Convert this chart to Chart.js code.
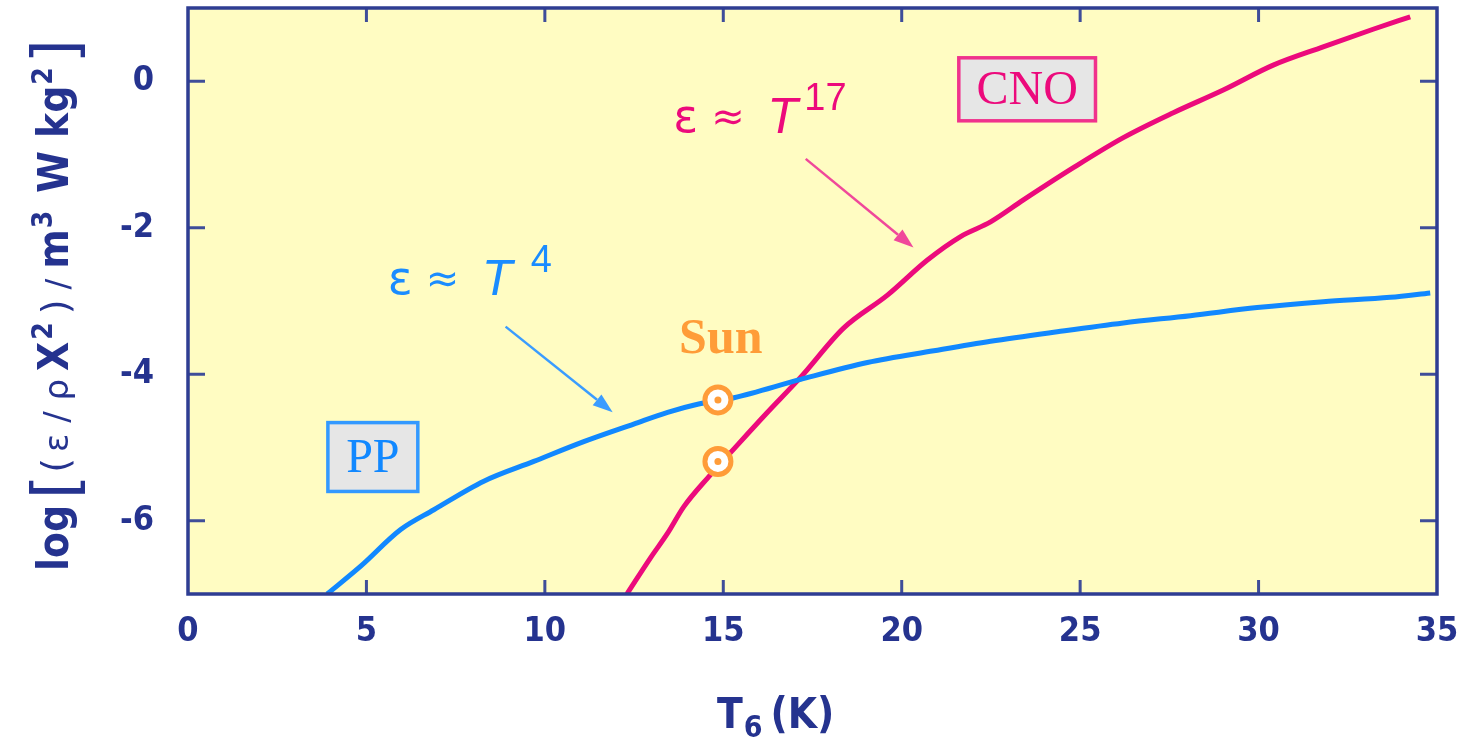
<!DOCTYPE html>
<html>
<head>
<meta charset="utf-8">
<script src="https://cdn.jsdelivr.net/npm/chart.js@4.4.1/dist/chart.umd.min.js"></script>
<style>
  html, body { margin: 0; background: #fff; }
</style>
</head>
<body>
<canvas id="chart" width="1460" height="741"></canvas>
<script>
// pp chain: log(eps / rho X^2) against T6
const ppT   = [3.9, 4.84, 5.96, 6.89, 8.29, 9.69, 11.09, 12.49, 13.44, 14.28, 15.3, 17.17, 19.04, 20.9, 22.49, 24.36, 26.21, 28.09, 29.96, 31.81, 33.69, 34.81];
const ppLog = [-7.0, -6.62, -6.12, -5.85, -5.46, -5.19, -4.92, -4.68, -4.52, -4.41, -4.32, -4.07, -3.84, -3.68, -3.55, -3.42, -3.30, -3.20, -3.09, -3.01, -2.95, -2.89];

// CNO cycle
const cnoT   = [12.3, 12.97, 13.44, 13.89, 14.59, 15.26, 16.2, 17.17, 18.37, 19.6, 20.72, 21.65, 22.49, 23.41, 24.81, 26.21, 27.61, 29.01, 30.41, 31.81, 33.21, 34.25];
const cnoLog = [-7.0, -6.5, -6.17, -5.81, -5.4, -5.04, -4.54, -4.04, -3.37, -2.92, -2.44, -2.12, -1.92, -1.62, -1.18, -0.77, -0.43, -0.12, 0.22, 0.47, 0.71, 0.88];

// the Sun on both curves
const sunT   = [14.85, 14.85];
const sunLog = [-4.35, -5.19];

const xTicks = [0, 5, 10, 15, 20, 25, 30, 35];
const yTicks = [-6, -4, -2, 0];

const NAVY = '#25338f';
const FRAME = '#2e3d93';
const BLUE = '#1188ff';
const PINK = '#ec0a7c';
const ORANGE = '#ff9c38';
const NARROW = '"Liberation Sans Narrow", "DejaVu Sans Condensed", sans-serif';
const SERIF = '"Liberation Serif", "DejaVu Serif", serif';

const pts = (xs, ys) => xs.map((x, i) => ({ x, y: ys[i] }));

function arrow(ctx, x1, y1, x2, y2, color, w) {
  const a = Math.atan2(y2 - y1, x2 - x1);
  const hl = 20, hw = 7;
  ctx.save();
  ctx.strokeStyle = color;
  ctx.fillStyle = color;
  ctx.lineWidth = w;
  ctx.beginPath();
  ctx.moveTo(x1, y1);
  ctx.lineTo(x2 - hl * Math.cos(a), y2 - hl * Math.sin(a));
  ctx.stroke();
  ctx.beginPath();
  ctx.moveTo(x2, y2);
  ctx.lineTo(x2 - hl * Math.cos(a) + hw * Math.sin(a), y2 - hl * Math.sin(a) - hw * Math.cos(a));
  ctx.lineTo(x2 - hl * Math.cos(a) - hw * Math.sin(a), y2 - hl * Math.sin(a) + hw * Math.cos(a));
  ctx.closePath();
  ctx.fill();
  ctx.restore();
}

function labelBox(ctx, x1, y1, x2, y2, text, color, border) {
  ctx.save();
  ctx.fillStyle = '#e6e6e6';
  ctx.fillRect(x1, y1, x2 - x1, y2 - y1);
  ctx.strokeStyle = border;
  ctx.lineWidth = 3.5;
  ctx.strokeRect(x1, y1, x2 - x1, y2 - y1);
  ctx.fillStyle = color;
  ctx.font = '48px ' + SERIF;
  ctx.textAlign = 'center';
  ctx.textBaseline = 'middle';
  ctx.fillText(text, (x1 + x2) / 2, (y1 + y2) / 2 + 2);
  ctx.restore();
}

// eps ~ T^n label, drawn piece by piece
function powerLabel(ctx, x, y, n, color, supDx) {
  ctx.save();
  ctx.fillStyle = color;
  ctx.textBaseline = 'alphabetic';
  ctx.font = '46px "DejaVu Sans", sans-serif';
  ctx.fillText('ε', x, y);
  ctx.font = '40px "DejaVu Sans", sans-serif';
  ctx.fillText('≈', x + 38, y - 2);
  ctx.font = 'italic 50px "Liberation Sans", sans-serif';
  ctx.fillText('T', x + 94, y + 1);
  ctx.font = '38px "Liberation Sans", sans-serif';
  ctx.fillText(n, x + supDx, y - 22);
  ctx.restore();
}

// a row of text pieces laid out one after the other
function runs(ctx, x, y, parts) {
  let cx = x;
  parts.forEach(p => {
    ctx.font = p.f;
    ctx.fillText(p.t, cx, y + (p.dy || 0));
    cx += ctx.measureText(p.t).width + (p.gap || 0);
  });
}
function runsWidth(ctx, parts) {
  return parts.reduce((s, p) => { ctx.font = p.f; return s + ctx.measureText(p.t).width + (p.gap || 0); }, 0);
}

const decor = {
  id: 'decor',
  beforeDatasetsDraw(chart) {
    const { ctx, chartArea: a } = chart;
    ctx.save();
    ctx.fillStyle = '#fffcc2';
    ctx.fillRect(a.left, a.top, a.right - a.left, a.bottom - a.top);
    ctx.restore();
  },
  afterDatasetsDraw(chart) {
    const { ctx, chartArea: a, scales: { x, y } } = chart;
    const px = v => x.getPixelForValue(v);
    const py = v => y.getPixelForValue(v);

    // inward ticks
    ctx.save();
    ctx.strokeStyle = '#3f4d99';
    ctx.lineWidth = 3;
    ctx.beginPath();
    x.ticks.forEach(t => {
      const p = px(t.value);
      if (t.value === 0 || t.value === 35) return;
      ctx.moveTo(p, a.top); ctx.lineTo(p, a.top + 14);
      ctx.moveTo(p, a.bottom); ctx.lineTo(p, a.bottom - 14);
    });
    y.ticks.forEach(t => {
      const p = py(t.value);
      ctx.moveTo(a.left, p); ctx.lineTo(a.left + 17, p);
      ctx.moveTo(a.right, p); ctx.lineTo(a.right - 17, p);
    });
    ctx.stroke();
    ctx.strokeStyle = FRAME;
    ctx.lineWidth = 3.5;
    ctx.strokeRect(a.left, a.top, a.right - a.left, a.bottom - a.top);
    ctx.restore();

    // boxes and labels
    labelBox(ctx, px(21.6), py(0.32), px(25.43), py(-0.54), 'CNO', PINK, '#f0328c');
    labelBox(ctx, px(3.92), py(-4.66), px(6.44), py(-5.6), 'PP', BLUE, '#3399ff');

    ctx.save();
    ctx.fillStyle = ORANGE;
    ctx.font = 'bold 50px ' + SERIF;
    ctx.textAlign = 'center';
    ctx.fillText('Sun', px(14.93), py(-3.71));
    ctx.restore();

    powerLabel(ctx, px(13.6), py(-0.69), '17', PINK, 131);
    powerLabel(ctx, px(5.6), py(-2.91), '4', '#1a8cff', 143);

    arrow(ctx, px(17.31), py(-1.06), px(20.33), py(-2.27), '#f0489a', 2.5);
    arrow(ctx, px(8.9), py(-3.35), px(11.9), py(-4.52), '#3a9cff', 2.5);

    // axis titles
    ctx.save();
    ctx.fillStyle = NAVY;
    ctx.textBaseline = 'alphabetic';
    const xt = [
      { t: 'T', f: 'bold 42px ' + NARROW, gap: 1 },
      { t: '6', f: 'bold 30px ' + NARROW, dy: 9, gap: 8 },
      { t: '(K)', f: 'bold 42px ' + NARROW }
    ];
    runs(ctx, 717, 728, xt);

    const yt = [
      { t: 'log', f: 'bold 42px ' + NARROW, gap: 6 },
      { t: '[', f: '62px "DejaVu Sans", sans-serif', dy: 8, gap: 2 },
      { t: '(', f: '38px "DejaVu Sans", sans-serif', gap: 6 },
      { t: 'ε / ρ', f: '34px "DejaVu Sans", sans-serif', gap: 8 },
      { t: 'X', f: 'bold 42px ' + NARROW, gap: 2 },
      { t: '2', f: 'bold 28px ' + NARROW, dy: -16, gap: 8 },
      { t: ')', f: '38px "DejaVu Sans", sans-serif', gap: 10 },
      { t: '/', f: '32px "DejaVu Sans", sans-serif', gap: 10 },
      { t: 'm', f: 'bold 42px ' + NARROW, gap: 1 },
      { t: '3', f: 'bold 28px ' + NARROW, dy: -16, gap: 18 },
      { t: 'W kg', f: 'bold 42px ' + NARROW, gap: 1 },
      { t: '2', f: 'bold 28px ' + NARROW, dy: -16, gap: 4 },
      { t: ']', f: '62px "DejaVu Sans", sans-serif', dy: 8 }
    ];
    ctx.translate(68, 0);
    ctx.rotate(-Math.PI / 2);
    const w = runsWidth(ctx, yt);
    runs(ctx, -305 - w / 2, 0, yt);
    ctx.restore();
  }
};

new Chart(document.getElementById('chart'), {
  type: 'line',
  data: {
    datasets: [
      { data: pts(sunT, sunLog), showLine: false, pointRadius: 3.5, pointBackgroundColor: ORANGE, pointBorderWidth: 0, order: 0 },
      { data: pts(sunT, sunLog), showLine: false, pointRadius: 13, pointBackgroundColor: '#ffffff', pointBorderColor: ORANGE, pointBorderWidth: 5, order: 1 },
      { data: pts(ppT, ppLog), borderColor: BLUE, borderWidth: 5, pointRadius: 0, cubicInterpolationMode: 'monotone', order: 2 },
      { data: pts(cnoT, cnoLog), borderColor: PINK, borderWidth: 5, pointRadius: 0, cubicInterpolationMode: 'monotone', order: 3 }
    ]
  },
  options: {
    responsive: false,
    animation: false,
    layout: { autoPadding: false, padding: { top: 8, right: 23, left: 0, bottom: 0 } },
    plugins: { legend: { display: false }, tooltip: { enabled: false } },
    scales: {
      x: {
        type: 'linear', min: 0, max: 35,
        afterBuildTicks: s => { s.ticks = xTicks.map(v => ({ value: v })); },
        afterFit: s => { s.height = 741 - 594; s.paddingLeft = 0; s.paddingRight = 0; },
        grid: { display: false }, border: { display: false },
        ticks: { color: NAVY, padding: 10, font: { family: NARROW, size: 34, weight: 'bold' } }
      },
      y: {
        type: 'linear', min: -7, max: 1,
        afterBuildTicks: s => { s.ticks = yTicks.map(v => ({ value: v })); },
        afterFit: s => { s.width = 188; s.paddingTop = 0; s.paddingBottom = 0; },
        grid: { display: false }, border: { display: false },
        ticks: { color: NAVY, padding: 26, font: { family: NARROW, size: 34, weight: 'bold' } }
      }
    }
  },
  plugins: [decor]
});
</script>
</body>
</html>
